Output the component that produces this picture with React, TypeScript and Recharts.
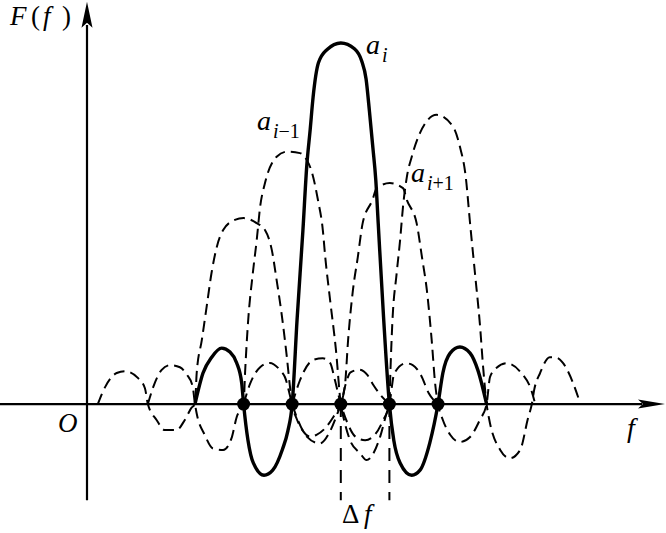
import {
  ComposedChart,
  Line,
  ReferenceDot,
  ReferenceLine,
  Scatter,
  XAxis,
  YAxis,
} from 'recharts';

type Pt = [number, number];

// f in units of the subcarrier spacing (zeros on integers), v relative to the a_i peak.
// a_i, solid, centred on f = 5
const carrierI: Pt[] = [
  [2, 0], [2.165, 0.086], [2.344, 0.13], [2.549, 0.155], [2.72, 0.144], [2.858, 0.114], [2.961, 0.058], [3, 0],
  [3.09, -0.1], [3.2, -0.163], [3.42, -0.197], [3.6, -0.183], [3.8, -0.125], [3.91, -0.075], [4, 0],
  [4.1, 0.233], [4.22, 0.48], [4.3, 0.66], [4.37, 0.76], [4.43, 0.85], [4.54, 0.945], [4.72, 0.982], [5, 1],
  [5.28, 0.984], [5.43, 0.95], [5.52, 0.9], [5.59, 0.81], [5.66, 0.71], [5.72, 0.62], [5.77, 0.5], [5.88, 0.24], [6, 0],
  [6.09, -0.1], [6.22, -0.163], [6.46, -0.197], [6.63, -0.183], [6.83, -0.108], [7, 0],
  [7.1, 0.086], [7.25, 0.141], [7.45, 0.158], [7.66, 0.141], [7.82, 0.094], [8, 0],
];

// dashed, centred on f = 3
const carrierI2: Pt[] = [
  [0, 0], [0.15, 0.047], [0.39, 0.086], [0.56, 0.091], [0.83, 0.072], [0.97, 0.044], [1.03, 0],
  [1.21, -0.044], [1.38, -0.072], [1.62, -0.072], [1.79, -0.044], [1.93, -0.01], [2, 0],
  [2.035, 0.086], [2.14, 0.177], [2.24, 0.27], [2.34, 0.363], [2.45, 0.436], [2.58, 0.482], [2.82, 0.51], [3, 0.515],
  [3.27, 0.501], [3.44, 0.482], [3.58, 0.427], [3.68, 0.343], [3.78, 0.252], [3.89, 0.13], [3.955, 0.047], [4, 0],
  [4.09, -0.04], [4.2, -0.07], [4.37, -0.09], [4.5, -0.085], [4.67, -0.068], [4.85, -0.035], [5, 0],
  [5.1, 0.055], [5.2, 0.088], [5.38, 0.095], [5.55, 0.08], [5.67, 0.053], [5.85, 0.02], [6, 0],
];

// a_{i-1}, dashed, centred on f = 4
const carrierPrev: Pt[] = [
  [1.03, 0], [1.14, 0.047], [1.31, 0.094], [1.49, 0.108], [1.69, 0.102], [1.83, 0.082], [1.95, 0.05], [2, 0],
  [2.035, -0.026], [2.2, -0.085], [2.37, -0.123], [2.58, -0.127], [2.75, -0.095], [2.86, -0.035], [3, 0],
  [3.03, 0.086], [3.09, 0.224], [3.19, 0.363], [3.27, 0.454], [3.34, 0.546], [3.44, 0.612], [3.68, 0.685], [3.89, 0.699],
  [4.16, 0.695], [4.3, 0.676], [4.41, 0.64], [4.53, 0.565], [4.63, 0.482], [4.68, 0.407], [4.78, 0.288], [4.9, 0.15], [5, 0],
  [5.06, -0.04], [5.19, -0.1], [5.4, -0.137], [5.53, -0.155], [5.6, -0.15], [5.81, -0.09], [5.94, -0.026], [6, 0],
  [6.1, 0.085], [6.34, 0.113], [6.48, 0.108], [6.65, 0.08], [6.81, 0.03], [7, 0],
];

// a_{i+1}, dashed, centred on f = 6
const carrierNext: Pt[] = [
  [3, 0], [3.13, 0.055], [3.34, 0.102], [3.54, 0.114], [3.75, 0.094], [3.85, 0.075], [4, 0],
  [4.12, -0.045], [4.3, -0.09], [4.57, -0.109], [4.78, -0.075], [4.92, -0.03], [5, 0],
  [5.09, 0.058], [5.15, 0.177], [5.25, 0.316], [5.35, 0.407], [5.45, 0.501], [5.65, 0.565], [5.74, 0.598], [6.01, 0.612],
  [6.28, 0.598], [6.36, 0.565], [6.56, 0.501], [6.67, 0.407], [6.77, 0.316], [6.87, 0.177], [6.94, 0.058], [7, 0],
  [7.1, -0.044], [7.25, -0.085], [7.45, -0.105], [7.66, -0.091], [7.86, -0.044], [8, 0],
  [8.07, 0.075], [8.2, 0.1], [8.41, 0.113], [8.69, 0.09], [8.93, 0.034], [9, 0],
];

// dashed, centred on f = 7
const carrierNext2: Pt[] = [
  [4, 0], [4.16, 0.066], [4.43, 0.122], [4.63, 0.127], [4.78, 0.114], [4.88, 0.066], [5, 0],
  [5.13, -0.05], [5.3, -0.09], [5.5, -0.1], [5.7, -0.085], [5.87, -0.045], [6, 0],
  [6.02, 0.086], [6.06, 0.224], [6.15, 0.363], [6.22, 0.454], [6.28, 0.547], [6.36, 0.63], [6.46, 0.685], [6.63, 0.751], [6.97, 0.801],
  [7.31, 0.768], [7.45, 0.713], [7.57, 0.63], [7.66, 0.5], [7.76, 0.363], [7.86, 0.224], [7.93, 0.1], [8, 0],
  [8.05, -0.04], [8.28, -0.127], [8.48, -0.15], [8.69, -0.127], [8.85, -0.04], [8.93, 0],
  [8.98, 0.04], [9.1, 0.086], [9.3, 0.13], [9.45, 0.128], [9.57, 0.114], [9.78, 0.058], [9.93, 0],
];

const zeroDots = [3, 4, 5, 6, 7];
const deltaF = [5, 6];

const X_DOMAIN: [number, number] = [-2.012, 11.691];
const Y_DOMAIN: [number, number] = [-0.357, 1.119];
const AXIS_X = -0.222;

const SERIF = '"Liberation Serif", "Times New Roman", serif';

const rows = (pts: Pt[]) => pts.map(([f, v]) => ({ f, v }));

const dashedProps = {
  type: 'monotone' as const,
  dataKey: 'v',
  stroke: '#000',
  strokeWidth: 2,
  strokeDasharray: '11 6',
  dot: false,
  activeDot: false,
  isAnimationActive: false,
};

const subLabel = (sub: string, rest: string) => (p: any) => (
  <g fontFamily={SERIF} fill="#000">
    <text x={p.cx} y={p.cy} fontSize={28} fontStyle="italic">a</text>
    <text x={p.cx + 16} y={p.cy + 8} fontSize={20}>
      <tspan fontStyle="italic">{sub}</tspan>
      {rest}
    </text>
  </g>
);

export default function App() {
  return (
    <div style={{ position: 'absolute', left: 0, top: 0, width: 666, height: 533, background: '#fff' }}>
      <ComposedChart width={666} height={533} margin={{ top: 0, right: 0, bottom: 0, left: 0 }}>
        <XAxis type="number" dataKey="f" domain={X_DOMAIN} hide allowDataOverflow />
        <YAxis type="number" domain={Y_DOMAIN} hide allowDataOverflow />

        {/* axes */}
        <ReferenceLine
          segment={[{ x: X_DOMAIN[0], y: 0 }, { x: 11.2, y: 0 }]}
          stroke="#000"
          strokeWidth={2.2}
          ifOverflow="visible"
        />
        <ReferenceLine
          segment={[{ x: AXIS_X, y: -0.266 }, { x: AXIS_X, y: 1.05 }]}
          stroke="#000"
          strokeWidth={2.2}
          ifOverflow="visible"
        />
        <ReferenceDot
          x={11.67}
          y={0}
          r={0}
          ifOverflow="visible"
          shape={(p: any) => (
            <polygon
              points={`${p.cx},${p.cy} ${p.cx - 27},${p.cy - 4.5} ${p.cx - 22},${p.cy} ${p.cx - 27},${p.cy + 4.5}`}
              fill="#000"
            />
          )}
        />
        <ReferenceDot
          x={AXIS_X}
          y={1.114}
          r={0}
          ifOverflow="visible"
          shape={(p: any) => (
            <polygon
              points={`${p.cx},${p.cy} ${p.cx - 5.5},${p.cy + 26} ${p.cx},${p.cy + 21} ${p.cx + 5.5},${p.cy + 26}`}
              fill="#000"
            />
          )}
        />

        {/* Δf markers */}
        {deltaF.map((f) => (
          <ReferenceLine
            key={f}
            segment={[{ x: f, y: 0 }, { x: f, y: -0.266 }]}
            stroke="#000"
            strokeWidth={2}
            strokeDasharray="13 9"
            ifOverflow="visible"
          />
        ))}

        <Line {...dashedProps} data={rows(carrierI2)} />
        <Line {...dashedProps} data={rows(carrierPrev)} />
        <Line {...dashedProps} data={rows(carrierNext)} />
        <Line {...dashedProps} data={rows(carrierNext2)} />
        <Line
          type="monotone"
          dataKey="v"
          data={rows(carrierI)}
          stroke="#000"
          strokeWidth={3.4}
          dot={false}
          activeDot={false}
          isAnimationActive={false}
        />

        <Scatter
          data={zeroDots.map((f) => ({ f, v: 0 }))}
          dataKey="v"
          isAnimationActive={false}
          shape={(p: any) => <circle cx={p.cx} cy={p.cy} r={6.5} fill="#000" />}
        />

        {/* labels */}
        <ReferenceDot
          x={-1.807}
          y={1.05}
          r={0}
          ifOverflow="visible"
          shape={(p: any) => (
            <text x={p.cx} y={p.cy} fontFamily={SERIF} fontSize={27} fill="#000">
              <tspan fontStyle="italic">F</tspan>
              <tspan x={p.cx + 21}>(</tspan>
              <tspan x={p.cx + 33} fontStyle="italic">f</tspan>
              <tspan x={p.cx + 52}>)</tspan>
            </text>
          )}
        />
        <ReferenceDot
          x={-0.819}
          y={-0.078}
          r={0}
          ifOverflow="visible"
          shape={(p: any) => (
            <text x={p.cx} y={p.cy} fontFamily={SERIF} fontSize={27} fontStyle="italic" fill="#000">O</text>
          )}
        />
        <ReferenceDot
          x={10.889}
          y={-0.091}
          r={0}
          ifOverflow="visible"
          shape={(p: any) => (
            <text x={p.cx} y={p.cy} fontFamily={SERIF} fontSize={28} fontStyle="italic" fill="#000">f</text>
          )}
        />
        <ReferenceDot
          x={5.025}
          y={-0.33}
          r={0}
          ifOverflow="visible"
          shape={(p: any) => (
            <text x={p.cx} y={p.cy} fontFamily={SERIF} fontSize={27} fill="#000">
              Δ<tspan x={p.cx + 22} fontStyle="italic">f</tspan>
            </text>
          )}
        />
        <ReferenceDot x={3.276} y={0.759} r={0} ifOverflow="visible" shape={subLabel('i', '−1')} />
        <ReferenceDot x={5.519} y={0.969} r={0} ifOverflow="visible" shape={subLabel('i', '')} />
        <ReferenceDot x={6.444} y={0.615} r={0} ifOverflow="visible" shape={subLabel('i', '+1')} />
      </ComposedChart>
    </div>
  );
}
